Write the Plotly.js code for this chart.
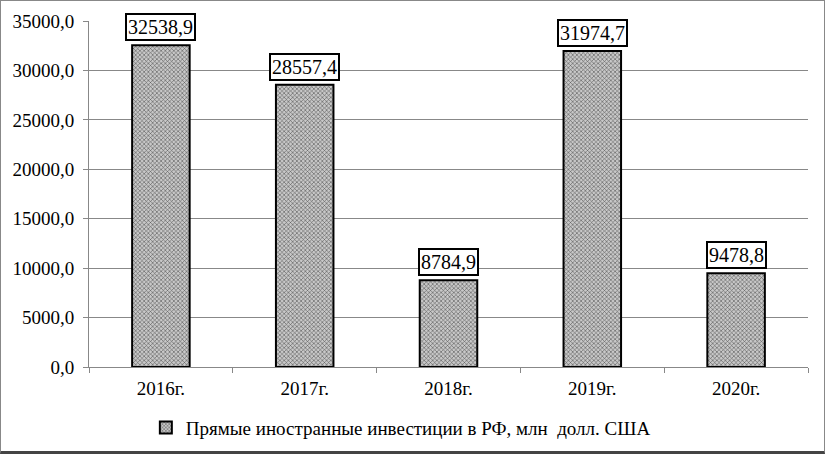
<!DOCTYPE html>
<html><head><meta charset="utf-8">
<script src="https://cdn.plot.ly/plotly-3.0.1.min.js"></script>
<style>html,body{margin:0;padding:0;background:#fff}#c{width:825px;height:454px;box-sizing:border-box;border:1px solid #888;border-bottom:3px solid #444}</style>
</head><body><div id="c"></div>
<script>
const categories = ["2016г.", "2017г.", "2018г.", "2019г.", "2020г."];
const values = [32538.9, 28557.4, 8784.9, 31974.7, 9478.8];
const labels = ["32538,9", "28557,4", "8784,9", "31974,7", "9478,8"];
const seriesName = "Прямые иностранные инвестиции в РФ, млн  долл. США";

const font = {family: "Liberation Serif, Times New Roman, serif", color: "#000"};
const trace = {
  type: "bar", x: categories, y: values, name: seriesName, width: 0.4,
  marker: {color: "#b5b5b5", line: {color: "#000", width: 2},
    pattern: {shape: "x", size: 3, solidity: 0.35, fgcolor: "#555", bgcolor: "#c8c8c8", fillmode: "replace"}},
  showlegend: true, hoverinfo: "none"
};
const annotations = categories.map((c, i) => ({
  x: c, y: values[i], text: labels[i], showarrow: false, yanchor: "bottom", yshift: 4,
  font: Object.assign({size: 20}, font), bgcolor: "#fff", bordercolor: "#000", borderwidth: 2, borderpad: 1
}));
const layout = {
  width: 823, height: 450,
  margin: {l: 88, r: 16, t: 20, b: 84},
  paper_bgcolor: "#fff", plot_bgcolor: "#fff",
  separators: ", ",
  font: Object.assign({size: 19}, font),
  xaxis: {type: "category", showgrid: false, showline: true, linecolor: "#888", linewidth: 1,
    ticks: "outside", tickson: "boundaries", ticklen: 5, tickcolor: "#888", automargin: false, ticklabelstandoff: 4,
    tickfont: Object.assign({size: 19}, font)},
  yaxis: {range: [0, 35000], dtick: 5000, tickformat: ".1f", showgrid: true, gridcolor: "#888", gridwidth: 1,
    showline: true, linecolor: "#888", ticks: "outside", ticklen: 5, tickcolor: "#888", zeroline: false, automargin: false,
    ticklabelstandoff: 5, tickfont: Object.assign({size: 19}, font)},
  legend: {orientation: "h", xref: "container", x: 0.176, xanchor: "left", yref: "container", y: 0.052, yanchor: "middle",
    font: Object.assign({size: 19}, font), itemwidth: 30},
  annotations: annotations,
  bargap: 0.6
};
Plotly.newPlot("c", [trace], layout, {displayModeBar: false, staticPlot: true});
</script></body></html>
